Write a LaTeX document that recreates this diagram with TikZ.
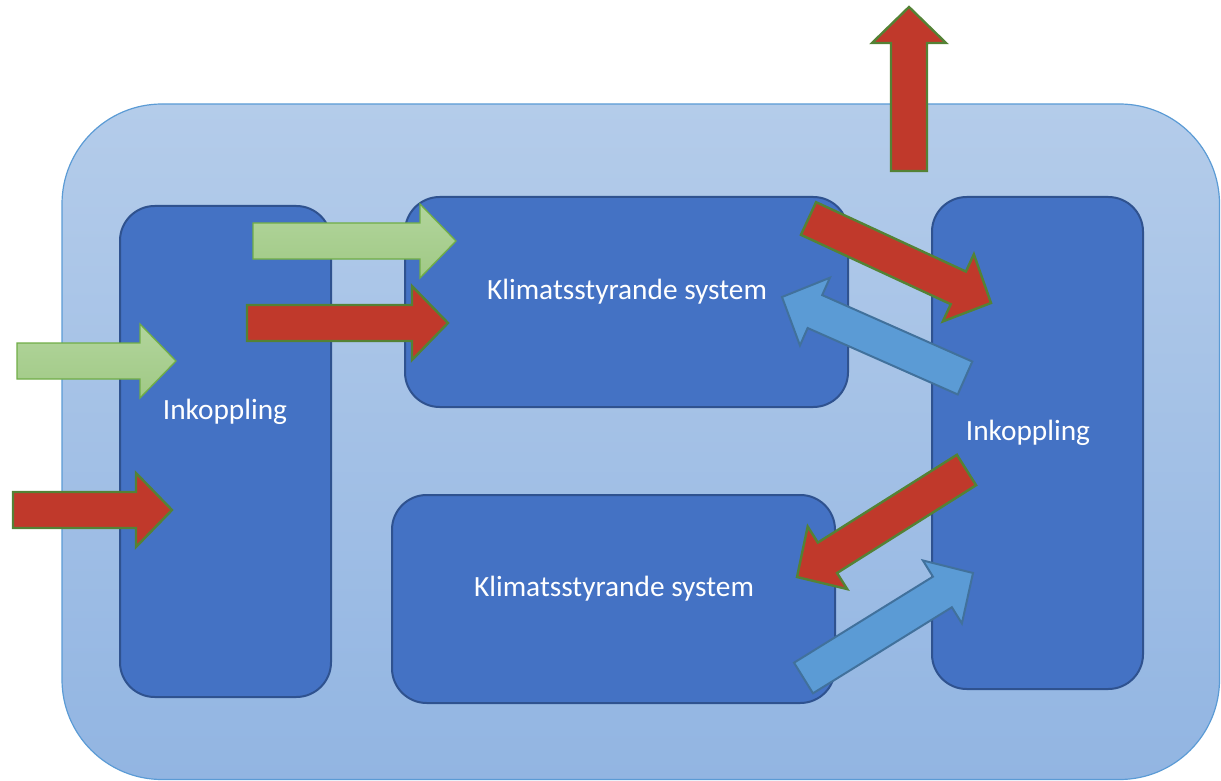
\documentclass[tikz,border=0pt]{standalone}
\usepackage{fontspec}
\setmainfont{Carlito}
\usetikzlibrary{calc}

\definecolor{outerline}{HTML}{5B9BD5}
\definecolor{outertop}{HTML}{B4CCEA}
\definecolor{outerbot}{HTML}{92B5E2}
\definecolor{boxblue}{HTML}{4472C4}
\definecolor{boxline}{HTML}{2F528F}
\definecolor{heatred}{HTML}{C0392B}
\definecolor{heatline}{HTML}{548235}
\definecolor{freshtop}{HTML}{B2D59C}
\definecolor{freshbot}{HTML}{A0C985}
\definecolor{freshline}{HTML}{70AD47}
\definecolor{coolblue}{HTML}{5B9BD5}
\definecolor{coolline}{HTML}{41719C}

\tikzset{
  box/.style={draw=boxline, fill=boxblue, line width=1.5pt, rounded corners=26pt, inner sep=0pt},
  boxtext/.style={text=white, font=\fontsize{22}{26}\selectfont},
  heat/.style={fill=heatred, draw=heatline, line width=1.8pt, line join=miter},
  fresh/.style={top color=freshtop, bottom color=freshbot, draw=freshline, line width=1pt},
  cool/.style={fill=coolblue, draw=coolline, line width=1.5pt},
}

% block arrow: style, tail, tip
\newcommand{\blockarrow}[3]{%
  \coordinate (#2-b) at ($(#3)!27pt!(#2)$);
  \draw[#1] ($(#2)!13.5pt!90:(#3)$) -- ($(#2-b)!13.5pt!90:(#3)$)
    -- ($(#2-b)!27.75pt!90:(#3)$) -- (#3)
    -- ($(#2-b)!27.75pt!-90:(#3)$) -- ($(#2-b)!13.5pt!-90:(#3)$)
    -- ($(#2)!13.5pt!-90:(#3)$) -- cycle;
}

\begin{document}
\begin{tikzpicture}[x=0.75pt, y=-0.75pt]
    \useasboundingbox (0,0) rectangle (1221,781);

    % building
    \draw[draw=outerline, top color=outertop, bottom color=outerbot, line width=0.9pt, rounded corners=75pt]
        (62,104) rectangle (1219.5,779.5);

    % units
    \node[box, minimum width=158.25pt, minimum height=368.25pt] (inL) at (225.5,451.5) {};
    \node[box, minimum width=332.25pt, minimum height=157.5pt] (sysT) at (626.5,302) {};
    \node[box, minimum width=332.25pt, minimum height=156pt] (sysB) at (613.5,599) {};
    \node[box, minimum width=158.25pt, minimum height=369pt] (inR) at (1037.5,443) {};

    \node[boxtext] (inL-t) at (225,412) {Inkoppling};
    \node[boxtext] (sysT-t) at (627,292) {Klimatsstyrande system};
    \node[boxtext] (sysB-t) at (614,589) {Klimatsstyrande system};
    \node[boxtext] (inR-t) at (1028,433) {Inkoppling};

    % arrow ends
    \coordinate (gL) at (17,361);     \coordinate (gL-h) at (176,361);
    \coordinate (rL) at (13,510);     \coordinate (rL-h) at (172,510);
    \coordinate (gT) at (253,241);    \coordinate (gT-h) at (456,241);
    \coordinate (rM) at (247,323);    \coordinate (rM-h) at (448,323);
    \coordinate (rUp) at (909,171);   \coordinate (rUp-h) at (909,7);
    \coordinate (rD1) at (808.5,218.5); \coordinate (rD1-h) at (991,303);
    \coordinate (bD1) at (965,378);   \coordinate (bD1-h) at (782,297);
    \coordinate (rD2) at (966.5,470); \coordinate (rD2-h) at (797,577);
    \coordinate (bD2) at (803.5,678); \coordinate (bD2-h) at (973,573);

    \blockarrow{fresh}{gL}{gL-h}
    \blockarrow{heat}{rL}{rL-h}
    \blockarrow{fresh}{gT}{gT-h}
    \blockarrow{heat}{rM}{rM-h}
    \blockarrow{heat}{rUp}{rUp-h}
    \blockarrow{heat}{rD1}{rD1-h}
    \blockarrow{cool}{bD1}{bD1-h}
    \blockarrow{heat}{rD2}{rD2-h}
    \blockarrow{cool}{bD2}{bD2-h}
\end{tikzpicture}
\end{document}
